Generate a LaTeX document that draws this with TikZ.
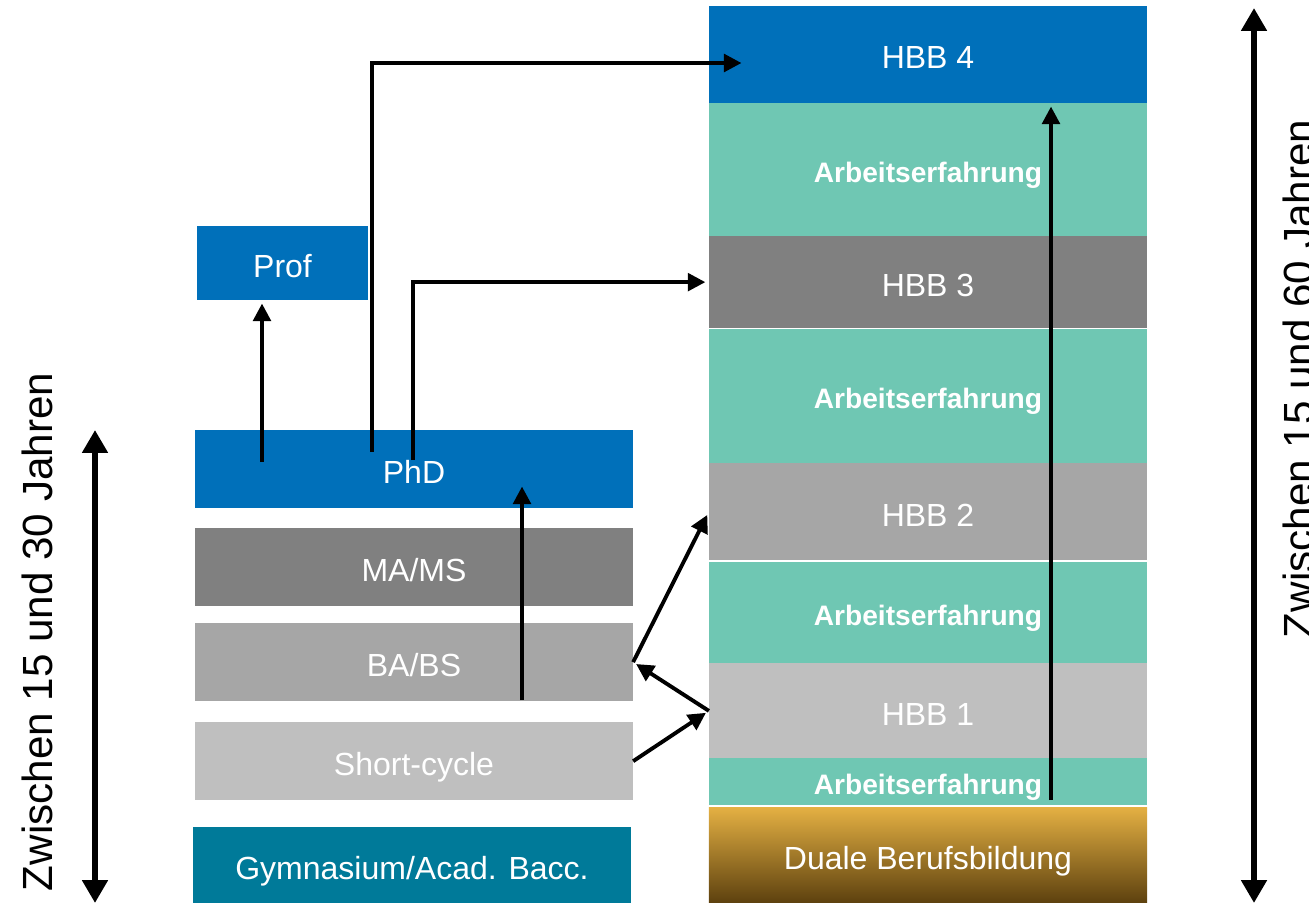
\documentclass[tikz,border=0pt]{standalone}
\usepackage{fontspec}
\setmainfont{Liberation Sans}
\usepackage{tikz}
\usetikzlibrary{arrows.meta,positioning}
\definecolor{hbbblue}{RGB}{0,112,186}
\definecolor{workgreen}{RGB}{111,199,179}
\definecolor{gymteal}{RGB}{0,122,153}
\definecolor{grayA}{RGB}{128,128,128}
\definecolor{grayB}{RGB}{166,166,166}
\definecolor{grayC}{RGB}{191,191,191}
\definecolor{dualtop}{RGB}{228,176,67}
\definecolor{dualmid}{RGB}{160,117,32}
\definecolor{dualbot}{RGB}{92,64,14}

\begin{document}
\begin{tikzpicture}[x=0.01cm,y=-0.01cm,>={Triangle[length=5pt,width=5pt]},
      layer/.style={rectangle,inner sep=0pt,outer sep=0pt,minimum width=4.38cm,
        minimum height=0.78cm,text=white,text height=8.2pt,text depth=0pt,
        font=\fontsize{9.1}{11}\selectfont},
      work/.style={layer,fill=workgreen,text height=7.2pt,
        font=\bfseries\fontsize{8}{10}\selectfont},
      conn/.style={->,line width=1.1pt,shorten >=1pt},
      span/.style={{Triangle[length=6.5pt,width=7pt]}-{Triangle[length=6.5pt,width=7pt]},
        line width=1.9pt},
      side/.style={inner sep=0pt,rotate=90,font=\fontsize{12}{14}\selectfont}]
    \useasboundingbox (0,0) rectangle (1309,903);
    % Hoehere Berufsbildung
    \node[layer,fill=hbbblue,minimum height=0.97cm] (hbb4) at (928,54.5) {HBB 4};
    \node[work,minimum height=1.33cm,below=0cm of hbb4] (arb4) {Arbeitserfahrung};
    \node[layer,fill=grayA,minimum height=0.92cm,below=0cm of arb4] (hbb3) {HBB 3};
    \node[work,minimum height=1.34cm,below=0.01cm of hbb3] (arb3) {Arbeitserfahrung};
    \node[layer,fill=grayB,minimum height=0.97cm,below=0cm of arb3] (hbb2) {HBB 2};
    \node[work,minimum height=1.01cm,below=0.02cm of hbb2] (arb2) {Arbeitserfahrung};
    \node[layer,fill=grayC,minimum height=0.95cm,below=0cm of arb2] (hbb1) {HBB 1};
    \node[work,minimum height=0.47cm,below=0cm of hbb1] (arb1) {Arbeitserfahrung};
    \node[layer,minimum height=0.96cm,below=0.02cm of arb1,top color=dualtop,
          middle color=dualmid,bottom color=dualbot] (dual) {Duale Berufsbildung};
    % Hochschule
    \node[layer,fill=hbbblue] (phd) at (414,469) {PhD};
    \node[layer,fill=grayA,below=0.2cm of phd] (mams) {MA/MS};
    \node[layer,fill=grayB,below=0.17cm of mams] (babs) {BA/BS};
    \node[layer,fill=grayC,below=0.21cm of babs] (short) {Short-cycle};
    \node[layer,fill=gymteal,minimum height=0.76cm,below=0.27cm of short,
          xshift=-0.02cm] (gym) {Gymnasium/Acad. Bacc.};
    \node[layer,fill=hbbblue,minimum width=1.71cm,minimum height=0.74cm] (prof)
          at (282.5,263) {Prof};
    % Altersspannen
    \node[side] (ageyoung) at (37,632) {Zwischen 15 und 30 Jahren};
    \node[side] (ageold) at (1298,379) {Zwischen 15 und 60 Jahren};

    \coordinate (profup) at (262,462);
    \coordinate (phdup) at (372,452);
    \coordinate (hbb4in) at (745,63);
    \coordinate (phdright) at (413,460);
    \coordinate (bsup) at (522,700);
    \coordinate (phdin) at (522,483);
    \coordinate (dualup) at (1051,800);
    \coordinate (youngtop) at (95,430);
    \coordinate (youngbot) at (95,903);
    \coordinate (oldtop) at (1254,8);
    \coordinate (oldbot) at (1254,903);

    \draw[conn] (profup) -- (profup |- prof.south);
    \draw[conn] (phdup) |- (hbb4in);
    \draw[conn] (phdright) |- (hbb3.west);
    \draw[conn] (bsup) -- (phdin);
    \draw[conn] (short.east) -- (hbb1.west);
    \draw[conn] (hbb1.west) -- (babs.east);
    \draw[conn] (babs.east) -- (hbb2.west);
    \draw[conn] (dualup) -- (dualup |- hbb4.south);
    \draw[span] (youngbot) -- (youngtop);
    \draw[span] (oldbot) -- (oldtop);
\end{tikzpicture}
\end{document}
